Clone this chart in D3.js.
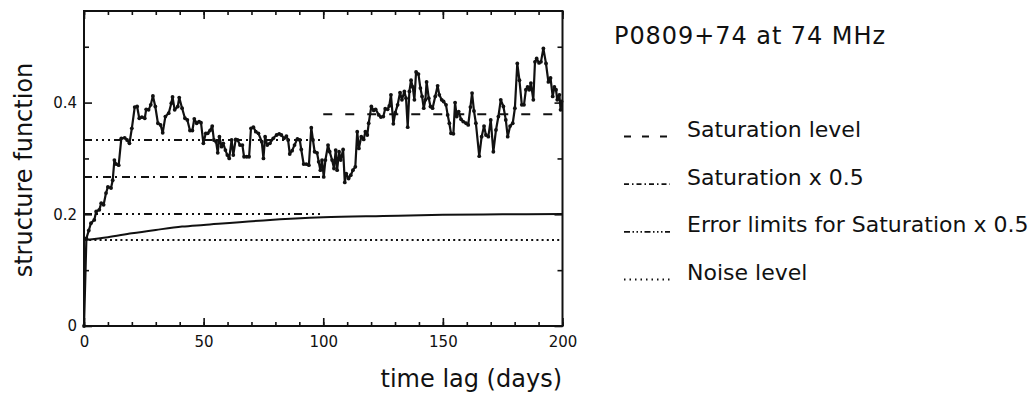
<!DOCTYPE html>
<html>
<head>
<meta charset="utf-8">
<script src="https://cdn.jsdelivr.net/npm/d3@7"></script>
<style>
  body { margin: 0; background: #fff; }
  text { font-family: "DejaVu Sans", sans-serif; fill: #111; }
</style>
</head>
<body>
<svg id="chart"></svg>
<script>
// structure function vs time lag
const lagDays = [0, 1, 2, 2.9, 4.3, 5.1, 6.4, 7.2, 8.2, 9.2, 10, 11.3, 12, 12.7, 13.4, 14.5, 15.6, 17, 18, 19,
  20, 21.2, 22.2, 23.1, 24.2, 25.4, 26, 27, 27.9, 28.8, 29.8, 30.9, 32, 32.9, 34, 35.4, 36.5, 37, 37.9, 39.2,
  39.8, 41, 42.2, 43.2, 44.3, 45.3, 46.1, 47.1, 48.1, 48.9, 49.9, 50.9, 51.7, 52.7, 53.6, 54.3, 55.2, 55.9, 56.6, 57.5,
  58.2, 59.1, 59.9, 60.7, 61.7, 62.4, 63.4, 64.2, 65.2, 66.2, 66.9, 68, 69, 69.8, 70.8, 71.8, 72.9, 74.3, 75, 75.7,
  76.6, 77.7, 79.1, 80.5, 81.6, 82.5, 83.6, 84.6, 85.3, 86, 87, 88, 89.2, 90.2, 90.8, 91.8, 92.9, 94, 95, 95.7,
  96.4, 97.4, 98.1, 98.8, 99.5, 100.2, 100.9, 102, 102.7, 103.7, 104.5, 105.2, 105.8, 106.6, 107.3, 108.3, 109, 109.6, 110.6, 111.5,
  112.4, 113.4, 114.2, 114.9, 115.9, 116.9, 117.6, 118.4, 119, 120.1, 121.1, 121.9, 123.2, 124.1, 125.1, 125.9, 126.9, 127.6, 128.3, 129.3,
  130.1, 131.1, 132.1, 132.9, 133.9, 134.6, 135.3, 136, 136.7, 137.4, 138.1, 138.8, 139.8, 140.6, 141.3, 142, 142.7, 143.2, 144.1, 144.8,
  145.7, 146.8, 147.8, 148.5, 149.5, 150.3, 151.3, 152, 152.7, 153.4, 154.4, 155.1, 155.8, 156.6, 157.6, 158.5, 159.7, 160.6, 161.5, 162.2,
  163, 163.8, 165.2, 166.2, 167.2, 168, 169, 170, 171.1, 172.2, 173.2, 174.2, 175.3, 176.3, 177.1, 178.1, 179.2, 180.1, 181.1, 182,
  183, 183.9, 184.7, 185.4, 186.1, 186.8, 187.8, 188.5, 189.2, 190.2, 191, 192, 193.1, 194.1, 195, 195.9, 196.6, 197.3, 197.8, 198.7,
  199.2, 199.6];
const sfValues = [0, 0.157, 0.171, 0.184, 0.19, 0.205, 0.208, 0.22, 0.217, 0.238, 0.249, 0.247, 0.261, 0.297, 0.29, 0.288, 0.336, 0.337, 0.333, 0.327,
  0.354, 0.392, 0.393, 0.372, 0.374, 0.372, 0.388, 0.387, 0.396, 0.412, 0.393, 0.363, 0.36, 0.346, 0.375, 0.381, 0.399, 0.41, 0.387, 0.393,
  0.409, 0.39, 0.372, 0.369, 0.35, 0.35, 0.371, 0.363, 0.366, 0.364, 0.327, 0.345, 0.345, 0.35, 0.358, 0.333, 0.33, 0.31, 0.339, 0.321,
  0.327, 0.315, 0.306, 0.3, 0.333, 0.306, 0.334, 0.333, 0.324, 0.324, 0.303, 0.303, 0.303, 0.354, 0.356, 0.348, 0.345, 0.33, 0.3, 0.339,
  0.324, 0.327, 0.336, 0.342, 0.344, 0.342, 0.336, 0.34, 0.333, 0.308, 0.314, 0.324, 0.335, 0.333, 0.316, 0.29, 0.29, 0.288, 0.355, 0.333,
  0.312, 0.31, 0.294, 0.279, 0.297, 0.267, 0.297, 0.324, 0.312, 0.297, 0.282, 0.315, 0.279, 0.312, 0.297, 0.316, 0.257, 0.273, 0.264, 0.27,
  0.279, 0.285, 0.348, 0.318, 0.339, 0.334, 0.348, 0.342, 0.363, 0.393, 0.386, 0.388, 0.378, 0.374, 0.375, 0.389, 0.388, 0.394, 0.414, 0.362,
  0.382, 0.396, 0.418, 0.405, 0.42, 0.408, 0.356, 0.42, 0.44, 0.428, 0.405, 0.455, 0.451, 0.426, 0.411, 0.39, 0.405, 0.437, 0.408, 0.393,
  0.39, 0.411, 0.43, 0.414, 0.405, 0.402, 0.396, 0.378, 0.363, 0.345, 0.344, 0.4, 0.375, 0.384, 0.37, 0.366, 0.363, 0.36, 0.392, 0.417,
  0.385, 0.363, 0.304, 0.339, 0.358, 0.342, 0.339, 0.369, 0.312, 0.351, 0.375, 0.405, 0.393, 0.369, 0.339, 0.358, 0.363, 0.39, 0.47, 0.44,
  0.396, 0.396, 0.423, 0.428, 0.423, 0.435, 0.405, 0.473, 0.479, 0.471, 0.473, 0.497, 0.47, 0.437, 0.444, 0.411, 0.428, 0.423, 0.405, 0.414,
  0.387, 0.402];

// smooth fitted curve
const fitLags = [0.5, 10, 20, 30, 41, 50, 75, 100, 125, 150, 175, 200];
const fitValues = [0.154, 0.159, 0.166, 0.172, 0.178, 0.181, 0.189, 0.1946, 0.197, 0.199, 0.2, 0.2005];

// horizontal reference levels
const refNames = ["Saturation level", "Saturation x 0.5", "Error limits for Saturation x 0.5", "Error limits for Saturation x 0.5", "Noise level"];
const refValues = [0.379, 0.267, 0.333, 0.2005, 0.154];
const refFrom = [100, 0, 0, 0, 0];
const refTo = [200, 100, 100, 100, 200];

const legendNames = ["Saturation level", "Saturation x 0.5", "Error limits for Saturation x 0.5", "Noise level"];
const titleText = "P0809+74 at 74 MHz";
const xTicksMajor = [0, 50, 100, 150, 200];
const yTicksMajor = [0, 0.2, 0.4];

const width = 1034, height = 394;
const svg = d3.select("#chart").attr("width", width).attr("height", height);

const x = d3.scaleLinear().domain([0, 200]).range([84, 562.5]);
const y = d3.scaleLinear().domain([0, 0.564]).range([326, 11]);

const dashFor = {
  "Saturation level": "9,13",
  "Saturation x 0.5": "8,4,2,5",
  "Error limits for Saturation x 0.5": "8,4,2,4,2,4,2,4",
  "Noise level": "2,3.2"
};
const legendDash = {
  "Saturation level": "7,11",
  "Saturation x 0.5": "5,3,1.5,3",
  "Error limits for Saturation x 0.5": "6,2.5,1.5,2.5,1.5,2.5,1.5,2.5",
  "Noise level": "1.5,4"
};

// axes: ticks point inward on all four sides
const fmt = d => d === 0 ? "0" : d3.format(".1f")(d);
function addAxis(axis, tx, ty) {
  const g = svg.append("g").attr("transform", `translate(${tx},${ty})`).call(axis);
  g.select(".domain").remove();
  g.selectAll("line").attr("stroke", "#111").attr("stroke-width", 1.6);
  g.selectAll("text").style("font-family", "DejaVu Sans").style("font-size", "15px").attr("fill", "#111");
  return g;
}
const xMinor = d3.range(0, 201, 10);
const yMinor = [0.1, 0.3, 0.5];
addAxis(d3.axisBottom(x).tickValues(xTicksMajor).tickSize(-8).tickPadding(10), 0, 326);
addAxis(d3.axisBottom(x).tickValues(xMinor).tickSize(-4).tickFormat(""), 0, 326);
addAxis(d3.axisTop(x).tickValues(xTicksMajor).tickSize(-8).tickFormat(""), 0, 11);
addAxis(d3.axisTop(x).tickValues(xMinor).tickSize(-4).tickFormat(""), 0, 11);
addAxis(d3.axisLeft(y).tickValues(yTicksMajor).tickSize(-8).tickPadding(7).tickFormat(fmt), 84, 0);
addAxis(d3.axisLeft(y).tickValues(yMinor).tickSize(-5).tickFormat(""), 84, 0);
addAxis(d3.axisRight(y).tickValues(yTicksMajor).tickSize(-8).tickFormat(""), 562.5, 0);
addAxis(d3.axisRight(y).tickValues(yMinor).tickSize(-5).tickFormat(""), 562.5, 0);

svg.append("rect")
  .attr("x", x(0)).attr("y", y(0.564))
  .attr("width", x(200) - x(0)).attr("height", y(0) - y(0.564))
  .attr("fill", "none").attr("stroke", "#111").attr("stroke-width", 2);

// reference lines
svg.selectAll(".ref")
  .data(refValues.map((v, i) => ({ v, name: refNames[i], a: refFrom[i], b: refTo[i] })))
  .enter().append("line")
  .attr("class", "ref")
  .attr("x1", d => x(d.a)).attr("x2", d => x(d.b))
  .attr("y1", d => y(d.v)).attr("y2", d => y(d.v))
  .attr("stroke", "#111").attr("stroke-width", 2)
  .attr("stroke-dasharray", d => dashFor[d.name]);

// fitted curve
svg.append("path")
  .datum(fitLags.map((l, i) => [l, fitValues[i]]))
  .attr("d", d3.line().x(d => x(d[0])).y(d => y(d[1])).curve(d3.curveMonotoneX))
  .attr("fill", "none").attr("stroke", "#111").attr("stroke-width", 2);

// data series
const pts = lagDays.map((l, i) => [l, sfValues[i]]);
svg.append("path")
  .datum(pts)
  .attr("d", d3.line().x(d => x(d[0])).y(d => y(d[1])))
  .attr("fill", "none").attr("stroke", "#111").attr("stroke-width", 2.2)
  .attr("stroke-linejoin", "round");
svg.selectAll(".pt")
  .data(pts)
  .enter().append("circle")
  .attr("class", "pt")
  .attr("cx", d => x(d[0])).attr("cy", d => y(d[1]))
  .attr("r", 1.9).attr("fill", "#111");

// axis titles
svg.append("text")
  .attr("x", 562).attr("y", 387)
  .attr("text-anchor", "end")
  .style("font-size", "24px")
  .text("time lag (days)");
svg.append("text")
  .attr("transform", "translate(32,170) rotate(-90)")
  .attr("text-anchor", "middle")
  .style("font-size", "24px")
  .text("structure function");

// title and legend
svg.append("text")
  .attr("x", 614).attr("y", 44)
  .style("font-size", "24px")
  .attr("textLength", 271).attr("lengthAdjust", "spacing")
  .text(titleText);

const legendY = [137, 184.7, 232.3, 280];
const lg = svg.selectAll(".lg").data(legendNames).enter().append("g").attr("class", "lg")
  .attr("transform", (d, i) => `translate(0,${legendY[i]})`);
lg.append("line")
  .attr("x1", 624).attr("x2", 670).attr("y1", -0.5).attr("y2", -0.5)
  .attr("stroke", "#111").attr("stroke-width", 1.8)
  .attr("stroke-dasharray", d => legendDash[d]);
lg.append("text")
  .attr("x", 687).attr("y", 0)
  .style("font-size", "22px")
  .text(d => d);
</script>
</body>
</html>
